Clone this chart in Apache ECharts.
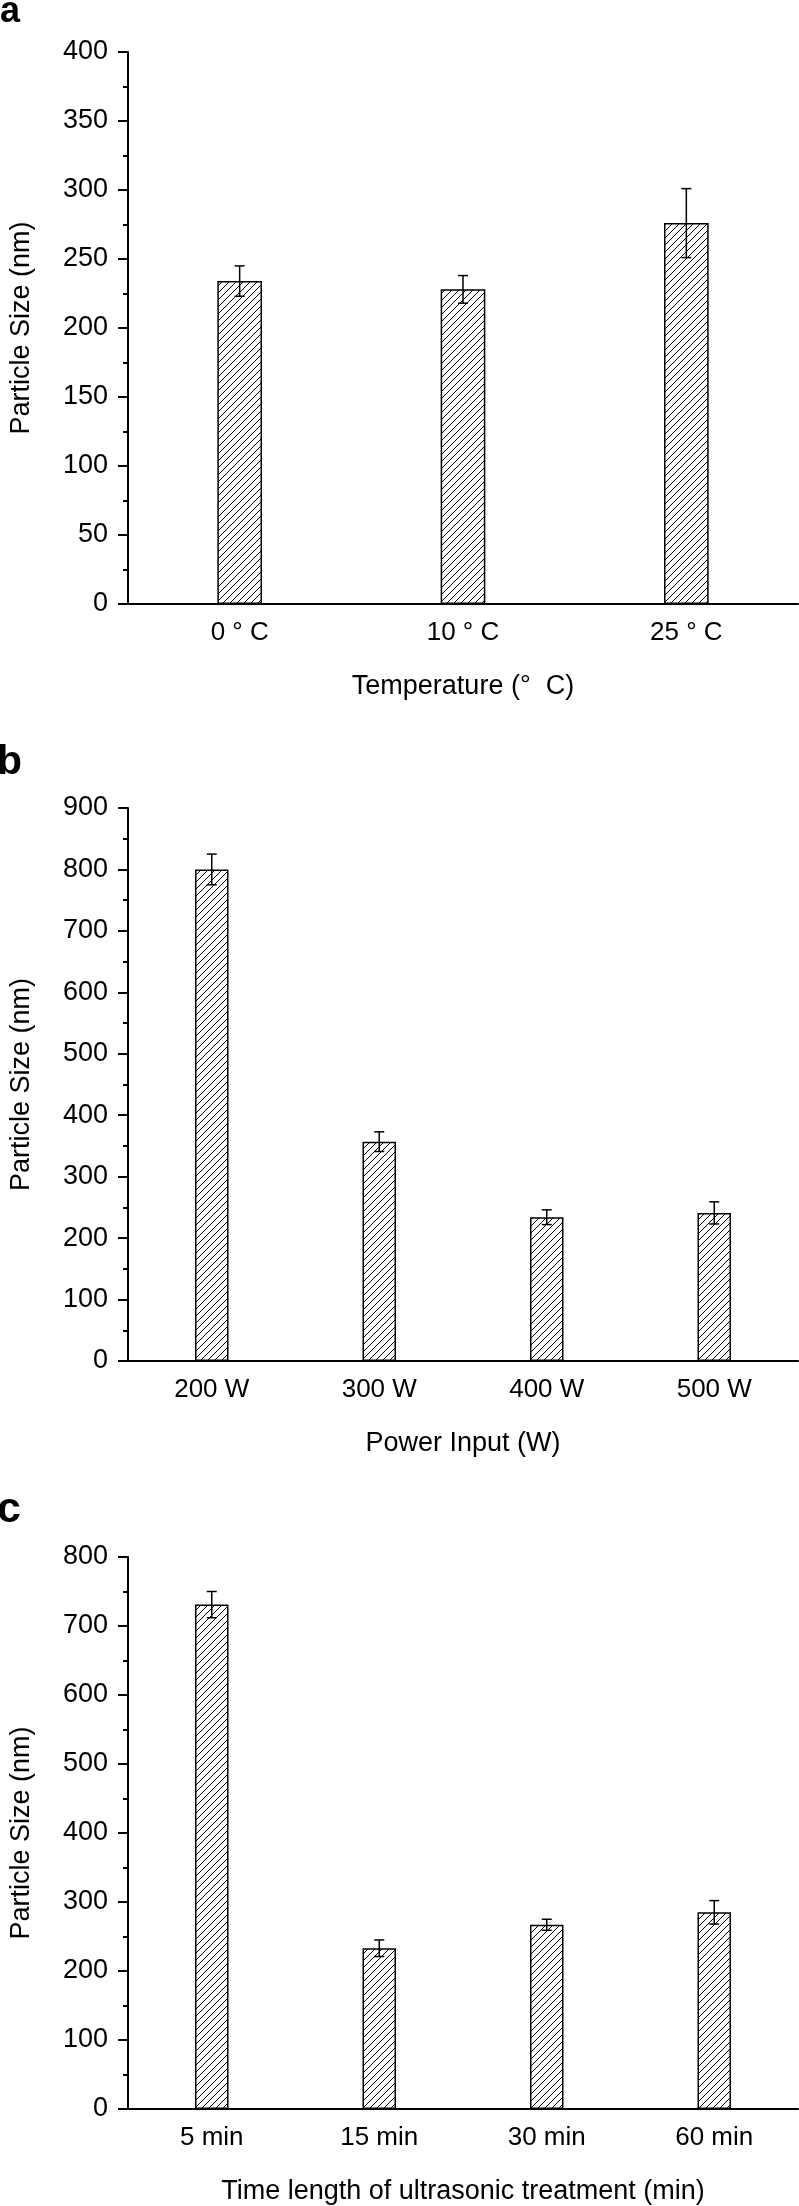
<!DOCTYPE html>
<html>
<head>
<meta charset="utf-8">
<script src="https://cdn.jsdelivr.net/npm/echarts@6/dist/echarts.min.js"></script>
<style>
  html, body { margin: 0; padding: 0; background: #fff; }
  #chart { width: 799px; height: 2206px; }
</style>
</head>
<body>
<div id="chart"></div>
<script>
// panel a - temperature
var tempCats = ['0 ° C', '10 ° C', '25 ° C'];
var tempSize = [234, 228, 276];
var tempErr = [11, 10, 25];
var tempAxis = [0, 400, 50];

// panel b - power input
var powerCats = ['200 W', '300 W', '400 W', '500 W'];
var powerSize = [800, 357, 234, 241];
var powerErr = [25, 16, 12, 18];
var powerAxis = [0, 900, 100];

// panel c - sonication time
var timeCats = ['5 min', '15 min', '30 min', '60 min'];
var timeSize = [731, 233, 267, 285];
var timeErr = [19, 12, 8, 17];
var timeAxis = [0, 800, 100];

var fontName = '"Liberation Sans", Arial, sans-serif';

// diagonal hatch fill for the bars
function hatchPattern() {
  var c = document.createElement('canvas');
  c.width = 7; c.height = 7;
  var ctx = c.getContext('2d');
  ctx.fillStyle = '#fff';
  ctx.fillRect(0, 0, 7, 7);
  ctx.strokeStyle = '#000';
  ctx.lineWidth = 1;
  ctx.beginPath();
  ctx.moveTo(-1, 8); ctx.lineTo(8, -1);
  ctx.moveTo(-1, 1); ctx.lineTo(1, -1);
  ctx.moveTo(6, 8); ctx.lineTo(8, 6);
  ctx.stroke();
  return c;
}
var hatch = hatchPattern();

var grids = [], xAxes = [], yAxes = [], series = [];

function addPanel(idx, cats, vals, errs, axis, xName, top, height) {
  grids.push({ left: 119, right: 1, top: top, height: height });

  // main category axis, ticks under the labels
  xAxes.push({
    type: 'category', gridIndex: idx, data: cats, position: 'bottom', offset: 0,
    axisLine: { lineStyle: { color: '#000', width: 2 } },
    axisTick: { alignWithLabel: true, length: 10, lineStyle: { color: '#000', width: 2 } },
    axisLabel: { color: '#000', fontSize: 26, fontFamily: fontName, margin: 16 },
    name: xName, nameLocation: 'middle', nameGap: 69,
    nameTextStyle: { color: '#000', fontSize: 27, fontFamily: fontName }
  });
  // second axis only for the short ticks at category borders
  xAxes.push({
    type: 'category', gridIndex: idx, data: cats, position: 'bottom', offset: 0,
    axisLine: { show: false },
    axisTick: { length: 6, lineStyle: { color: '#000', width: 2 } },
    axisLabel: { show: false }
  });

  yAxes.push({
    type: 'value', gridIndex: idx, min: axis[0], max: axis[1], interval: axis[2],
    splitLine: { show: false },
    axisLine: { show: true, lineStyle: { color: '#000', width: 2 } },
    axisTick: { show: true, length: 10, lineStyle: { color: '#000', width: 2 } },
    minorTick: { show: true, splitNumber: 2, length: 5, lineStyle: { color: '#000', width: 2 } },
    axisLabel: { color: '#000', fontSize: 27, fontFamily: fontName, margin: 20 },
    name: 'Particle Size (nm)', nameLocation: 'middle', nameGap: 93,
    nameTextStyle: { color: '#000', fontSize: 27, fontFamily: fontName }
  });

  series.push({
    type: 'bar',
    xAxisIndex: idx * 2, yAxisIndex: idx,
    data: vals,
    barWidth: '20%',
    itemStyle: {
      color: { image: hatch, repeat: 'repeat' },
      borderColor: '#000', borderWidth: 1.5
    },
    silent: true
  });

  series.push({
    type: 'custom',
    xAxisIndex: idx * 2, yAxisIndex: idx,
    data: vals.map(function (v, k) { return [k, v, errs[k]]; }),
    z: 10,
    silent: true,
    renderItem: function (params, api) {
      var x = api.value(0), v = api.value(1), e = api.value(2);
      var hi = api.coord([x, v + e]);
      var lo = api.coord([x, v - e]);
      var st = { stroke: '#000', lineWidth: 1.5 };
      return {
        type: 'group',
        children: [
          { type: 'line', shape: { x1: hi[0], y1: hi[1], x2: lo[0], y2: lo[1] }, style: st },
          { type: 'line', shape: { x1: hi[0] - 5, y1: hi[1], x2: hi[0] + 5, y2: hi[1] }, style: st },
          { type: 'line', shape: { x1: lo[0] - 5, y1: lo[1], x2: lo[0] + 5, y2: lo[1] }, style: st }
        ]
      };
    }
  });
}

addPanel(0, tempCats, tempSize, tempErr, tempAxis, 'Temperature (°  C)', 52, 552);
addPanel(1, powerCats, powerSize, powerErr, powerAxis, 'Power Input (W)', 808, 553);
addPanel(2, timeCats, timeSize, timeErr, timeAxis, 'Time length of ultrasonic treatment (min)', 1557, 552);

var chart = echarts.init(document.getElementById('chart'));
chart.setOption({
  animation: false,
  backgroundColor: '#fff',
  grid: grids,
  xAxis: xAxes,
  yAxis: yAxes,
  series: series,
  graphic: [
    { type: 'text', left: 0, top: -6, style: { text: 'a', font: 'bold 36px ' + fontName, fill: '#000' } },
    { type: 'text', left: -3, top: 742, style: { text: 'b', font: 'bold 41px ' + fontName, fill: '#000' } },
    { type: 'text', left: -3, top: 1489, style: { text: 'c', font: 'bold 43px ' + fontName, fill: '#000' } }
  ]
});
</script>
</body>
</html>
